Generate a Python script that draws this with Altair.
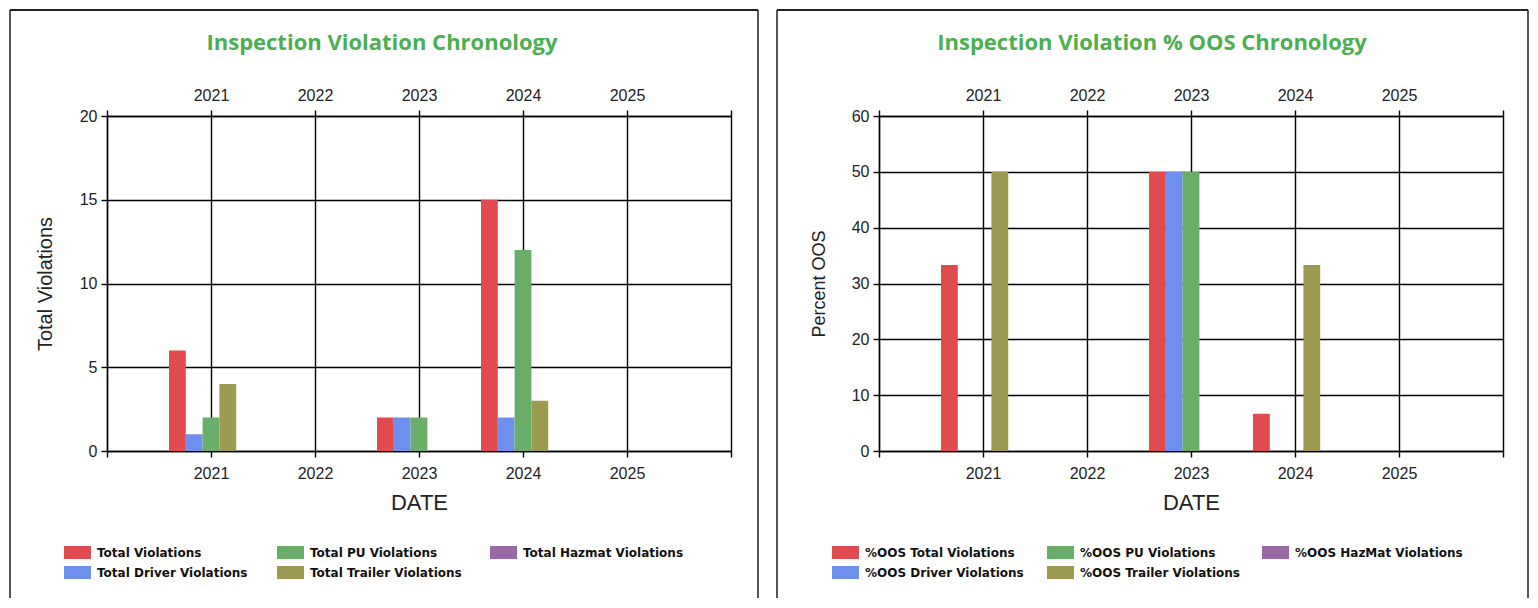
import altair as alt
import pandas as pd

# ---------------- data ----------------
years = [2021, 2022, 2023, 2024, 2025]
x_ticks = [2020, 2021, 2022, 2023, 2024, 2025, 2026]

left_series = ["Total Violations", "Total Driver Violations", "Total PU Violations",
               "Total Trailer Violations", "Total Hazmat Violations"]
total_violations = [6, 0, 2, 15, 0]
driver_violations = [1, 0, 2, 2, 0]
pu_violations = [2, 0, 2, 12, 0]
trailer_violations = [4, 0, 0, 3, 0]
hazmat_violations = [0, 0, 0, 0, 0]
left_y_ticks = [0, 5, 10, 15, 20]

right_series = ["%OOS Total Violations", "%OOS Driver Violations", "%OOS PU Violations",
                "%OOS Trailer Violations", "%OOS HazMat Violations"]
oos_total = [33.33, 0, 50, 6.67, 0]
oos_driver = [0, 0, 50, 0, 0]
oos_pu = [0, 0, 50, 0, 0]
oos_trailer = [50, 0, 0, 33.33, 0]
oos_hazmat = [0, 0, 0, 0, 0]
right_y_ticks = [0, 10, 20, 30, 40, 50, 60]

series_colors = ["#e04b4f", "#6f8fef", "#6aad69", "#9c9a50", "#9a68a3"]

LEFT_TITLE = "Inspection Violation Chronology"
RIGHT_TITLE = "Inspection Violation % OOS Chronology"

# ---------------- styling constants ----------------
W, H = 624, 335
GROUP = 84 / 104          # group width in years
BW = GROUP / 5            # bar width in years
LABEL_FONT = "Liberation Sans"
LEGEND_FONT = "DejaVu Sans"
TITLE_FONT = "Open Sans"
GREEN = "#4caf50"
FRAME = "#555555"
SWATCH = "M-2.077,-1L2.077,-1L2.077,1L-2.077,1Z"

one = pd.DataFrame({"k": [0]})


def rule(x1, x2, y1, y2, color=FRAME, width=2):
    return alt.Chart(one).mark_rule(color=color, strokeWidth=width).encode(
        x=alt.value(x1), x2=alt.value(x2), y=alt.value(y1), y2=alt.value(y2))


def panel(series, value_lists, y_ticks, y_title, y_title_size, y_title_pad,
          title, title_x, legend_x, col_pad, frame_left, frame_right):
    rows = []
    for i, (s, vals) in enumerate(zip(series, value_lists)):
        for yr, v in zip(years, vals):
            rows.append({"series": s, "idx": i, "year": yr, "value": v})
    df = pd.DataFrame(rows)

    xscale = alt.Scale(domain=[x_ticks[0], x_ticks[-1]], nice=False, zero=False)
    label_expr = ("datum.value >= %d && datum.value <= %d ? format(datum.value, 'd') : ''"
                  % (years[0], years[-1]))

    bars = alt.Chart(df).mark_rect().transform_calculate(
        x0=f"datum.year - {GROUP / 2} + datum.idx * {BW}",
        x1=f"datum.year - {GROUP / 2} + (datum.idx + 1) * {BW}",
        base="0",
    ).encode(
        x=alt.X("x0:Q", scale=xscale,
                axis=alt.Axis(values=x_ticks, labelExpr=label_expr, title="DATE",
                              grid=True, gridColor="#000", gridWidth=1.4,
                              domainColor="#000", domainWidth=1.4,
                              tickColor="#000", tickWidth=1.4, tickSize=6,
                              labelFont=LABEL_FONT, labelFontSize=16, labelColor="#222",
                              labelPadding=8, labelFlush=False,
                              titleFont=LABEL_FONT, titleFontSize=22,
                              titleFontWeight="normal", titleColor="#222",
                              titlePadding=11)),
        x2="x1:Q",
        y=alt.Y("value:Q",
                scale=alt.Scale(domain=[y_ticks[0], y_ticks[-1]], nice=False),
                axis=alt.Axis(values=y_ticks, format="d", title=y_title,
                              grid=True, gridColor="#000", gridWidth=1.4,
                              domainColor="#000", domainWidth=1.4,
                              tickColor="#000", tickWidth=1.4, tickSize=6,
                              labelFont=LABEL_FONT, labelFontSize=16, labelColor="#222",
                              labelPadding=4, labelFlush=False,
                              titleFont=LABEL_FONT, titleFontSize=y_title_size,
                              titleFontWeight="normal", titleColor="#222",
                              titlePadding=y_title_pad)),
        y2="base:Q",
        color=alt.Color("series:N",
                        scale=alt.Scale(domain=series, range=series_colors),
                        legend=alt.Legend(orient="none", legendX=legend_x, legendY=430,
                                          columns=3, gridAlign="all", title=None,
                                          symbolType=SWATCH,
                                          symbolSize=169, symbolStrokeWidth=0,
                                          symbolOpacity=1,
                                          labelFont=LEGEND_FONT, labelFontSize=12,
                                          labelFontWeight="bold", labelColor="#111",
                                          labelOffset=13, labelLimit=400, rowPadding=7,
                                          columnPadding=col_pad, padding=0)),
    )

    top_axis = alt.Chart(pd.DataFrame({"year": x_ticks})).mark_point(opacity=0).encode(
        x=alt.X("year:Q", scale=xscale,
                axis=alt.Axis(orient="top", values=x_ticks, labelExpr=label_expr,
                              title="", grid=False,
                              domainColor="#000", domainWidth=1.4,
                              tickColor="#000", tickWidth=1.4, tickSize=6,
                              labelFont=LABEL_FONT, labelFontSize=16, labelColor="#222",
                              labelPadding=7, labelFlush=False)),
    )

    title_mark = alt.Chart(one).mark_text(
        font=TITLE_FONT, fontSize=22, fontWeight="bold", color=GREEN,
        align="center", baseline="middle").encode(
        x=alt.value(title_x), y=alt.value(-73), text=alt.value(title))

    top, bottom = -106, 482
    frame = [
        rule(frame_left, frame_left, top, bottom),
        rule(frame_right, frame_right, top, bottom),
        rule(frame_left, frame_right, top, top, color="#222", width=2),
    ]

    return alt.layer(bars, top_axis, title_mark, *frame).resolve_axis(
        x="independent").properties(width=W, height=H)


left = panel(left_series,
             [total_violations, driver_violations, pu_violations,
              trailer_violations, hazmat_violations],
             left_y_ticks, "Total Violations", 20, 24,
             LEFT_TITLE, 275, -36, 18, -97, 651)

right = panel(right_series,
              [oos_total, oos_driver, oos_pu, oos_trailer, oos_hazmat],
              right_y_ticks, "Percent OOS", 18, 23,
              RIGHT_TITLE, 273, -40, 13, -102, 649)

chart = alt.hconcat(left, right, spacing=15, padding=0).resolve_scale(
    color="independent").configure_view(
    stroke="transparent").configure(background="white")

chart.save("out.html", embed_options={"renderer": "svg", "actions": False})
